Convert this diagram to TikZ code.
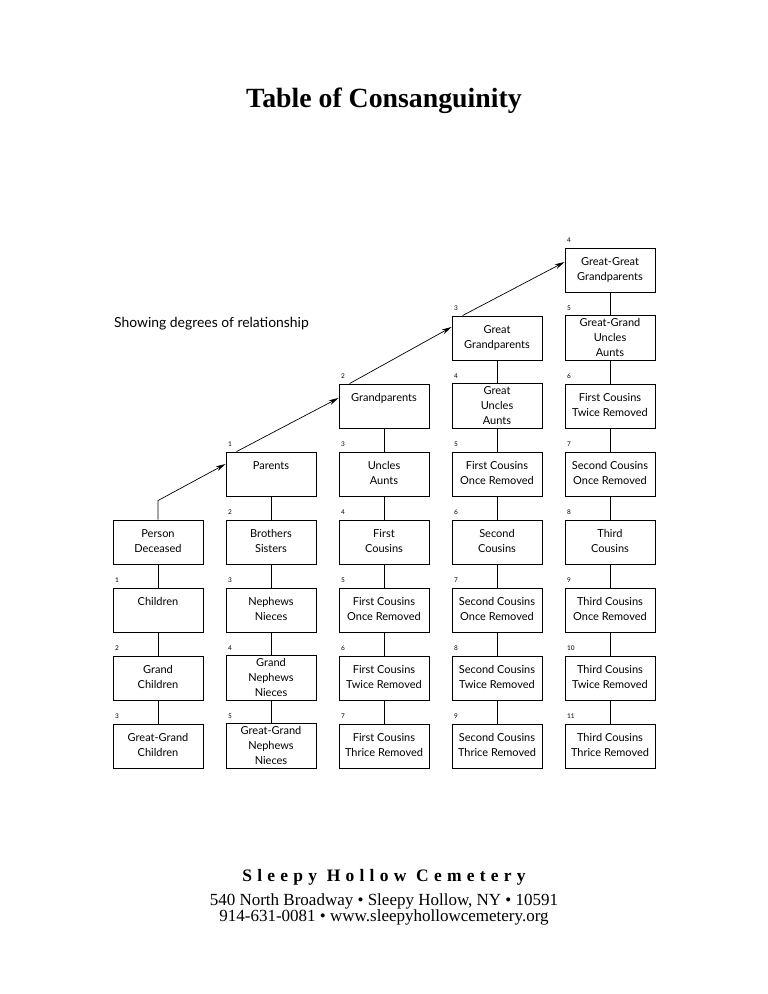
\documentclass[tikz,border=0pt]{standalone}
\usepackage{fontspec}
\setmainfont{Liberation Serif}
\newfontfamily\gs{Lato}
\newfontfamily\spaced[LetterSpace=30]{Liberation Serif}
\usetikzlibrary{arrows.meta}
\begin{document}
\begin{tikzpicture}[x=1pt,y=-1pt,
  bx/.style={draw, line width=0.9pt, minimum width=90pt, minimum height=44pt, inner sep=0pt, align=center, font=\gs\fontsize{11}{15}\selectfont},
  num/.style={anchor=base west, inner sep=0pt, font=\gs\fontsize{6.5}{7}\selectfont},
  ln/.style={line width=0.9pt},
  arr/.style={line width=0.7pt, -{Stealth[length=10pt,width=5pt]}}]
\useasboundingbox (0,0) rectangle (768,994);
% title
\node[anchor=base, inner sep=0pt, font=\bfseries\fontsize{27.8}{32}\selectfont] (title) at (384,107.5) {Table of Consanguinity};
\node[anchor=base west, inner sep=0pt, font=\gs\fontsize{13.9}{16}\selectfont] (sub) at (114,327.5) {Showing degrees of relationship};
% column 0
\node[bx] (pd) at (158,542) {Person\strut\\Deceased\strut};
\node[bx] (ch) at (158,610) {Children\strut\\\strut};
\node[bx] (gch) at (158,678) {Grand\strut\\Children\strut};
\node[bx] (ggch) at (158,746) {Great-Grand\strut\\Children\strut};
\node[num] (n-ch) at (115,582) {1};
\node[num] (n-gch) at (115,650) {2};
\node[num] (n-ggch) at (115,718) {3};
% column 1
\node[bx] (par) at (271,474) {Parents\strut\\\strut};
\node[bx] (bro) at (271,542) {Brothers\strut\\Sisters\strut};
\node[bx] (nep) at (271,610) {Nephews\strut\\Nieces\strut};
\node[bx] (gnep) at (271,678) {Grand\strut\\Nephews\strut\\Nieces\strut};
\node[bx] (ggnep) at (271,746) {Great-Grand\strut\\Nephews\strut\\Nieces\strut};
\node[num] (n-par) at (228,446) {1};
\node[num] (n-bro) at (228,514) {2};
\node[num] (n-nep) at (228,582) {3};
\node[num] (n-gnep) at (228,650) {4};
\node[num] (n-ggnep) at (228,718) {5};
% column 2
\node[bx] (gp) at (384,406) {Grandparents\strut\\\strut};
\node[bx] (unc) at (384,474) {Uncles\strut\\Aunts\strut};
\node[bx] (fc) at (384,542) {First\strut\\Cousins\strut};
\node[bx] (fcor) at (384,610) {First Cousins\strut\\Once Removed\strut};
\node[bx] (fctr) at (384,678) {First Cousins\strut\\Twice Removed\strut};
\node[bx] (fcthr) at (384,746) {First Cousins\strut\\Thrice Removed\strut};
\node[num] (n-gp) at (341,378) {2};
\node[num] (n-unc) at (341,446) {3};
\node[num] (n-fc) at (341,514) {4};
\node[num] (n-fcor) at (341,582) {5};
\node[num] (n-fctr) at (341,650) {6};
\node[num] (n-fcthr) at (341,718) {7};
% column 3
\node[bx] (ggp) at (497,338) {Great\strut\\Grandparents\strut};
\node[bx] (gunc) at (497,406) {Great\strut\\Uncles\strut\\Aunts\strut};
\node[bx] (fcor3) at (497,474) {First Cousins\strut\\Once Removed\strut};
\node[bx] (sc) at (497,542) {Second\strut\\Cousins\strut};
\node[bx] (scor) at (497,610) {Second Cousins\strut\\Once Removed\strut};
\node[bx] (sctr) at (497,678) {Second Cousins\strut\\Twice Removed\strut};
\node[bx] (scthr) at (497,746) {Second Cousins\strut\\Thrice Removed\strut};
\node[num] (n-ggp) at (454,310) {3};
\node[num] (n-gunc) at (454,378) {4};
\node[num] (n-fcor3) at (454,446) {5};
\node[num] (n-sc) at (454,514) {6};
\node[num] (n-scor) at (454,582) {7};
\node[num] (n-sctr) at (454,650) {8};
\node[num] (n-scthr) at (454,718) {9};
% column 4
\node[bx] (gggp) at (610,270) {Great-Great\strut\\Grandparents\strut};
\node[bx] (ggunc) at (610,338) {Great-Grand\strut\\Uncles\strut\\Aunts\strut};
\node[bx] (fctr4) at (610,406) {First Cousins\strut\\Twice Removed\strut};
\node[bx] (scor4) at (610,474) {Second Cousins\strut\\Once Removed\strut};
\node[bx] (tc) at (610,542) {Third\strut\\Cousins\strut};
\node[bx] (tcor) at (610,610) {Third Cousins\strut\\Once Removed\strut};
\node[bx] (tctr) at (610,678) {Third Cousins\strut\\Twice Removed\strut};
\node[bx] (tcthr) at (610,746) {Third Cousins\strut\\Thrice Removed\strut};
\node[num] (n-gggp) at (567,242) {4};
\node[num] (n-ggunc) at (567,310) {5};
\node[num] (n-fctr4) at (567,378) {6};
\node[num] (n-scor4) at (567,446) {7};
\node[num] (n-tc) at (567,514) {8};
\node[num] (n-tcor) at (567,582) {9};
\node[num] (n-tctr) at (567,650) {10};
\node[num] (n-tcthr) at (567,718) {11};
% vertical connectors
\draw[ln] (pd.south) -- (ch.north);
\draw[ln] (ch.south) -- (gch.north);
\draw[ln] (gch.south) -- (ggch.north);
\draw[ln] (par.south) -- (bro.north);
\draw[ln] (bro.south) -- (nep.north);
\draw[ln] (nep.south) -- (gnep.north);
\draw[ln] (gnep.south) -- (ggnep.north);
\draw[ln] (gp.south) -- (unc.north);
\draw[ln] (unc.south) -- (fc.north);
\draw[ln] (fc.south) -- (fcor.north);
\draw[ln] (fcor.south) -- (fctr.north);
\draw[ln] (fctr.south) -- (fcthr.north);
\draw[ln] (ggp.south) -- (gunc.north);
\draw[ln] (gunc.south) -- (fcor3.north);
\draw[ln] (fcor3.south) -- (sc.north);
\draw[ln] (sc.south) -- (scor.north);
\draw[ln] (scor.south) -- (sctr.north);
\draw[ln] (sctr.south) -- (scthr.north);
\draw[ln] (gggp.south) -- (ggunc.north);
\draw[ln] (ggunc.south) -- (fctr4.north);
\draw[ln] (fctr4.south) -- (scor4.north);
\draw[ln] (scor4.south) -- (tc.north);
\draw[ln] (tc.south) -- (tcor.north);
\draw[ln] (tcor.south) -- (tctr.north);
\draw[ln] (tctr.south) -- (tcthr.north);
% ascending arrows
\draw[arr] (pd.north) -- ++(0,-19) -- ([yshift=10pt]par.west);
\draw[arr] ([xshift=11pt]par.north west) -- ([yshift=8pt]gp.west);
\draw[arr] ([xshift=11pt]gp.north west) -- ([yshift=11pt]ggp.west);
\draw[arr] ([xshift=11pt]ggp.north west) -- ([yshift=8pt]gggp.west);
% footer
\node[anchor=base, inner sep=0pt, font=\spaced\bfseries\fontsize{17.5}{20}\selectfont] (cem) at (384,881.5) {Sleepy Hollow Cemetery};
\node[anchor=base, inner sep=0pt, font=\fontsize{17}{19}\selectfont] (addr) at (384,905) {540 North Broadway • Sleepy Hollow, NY • 10591};
\node[anchor=base, inner sep=0pt, font=\fontsize{17}{19}\selectfont] (web) at (384,921.5) {914-631-0081 • www.sleepyhollowcemetery.org};
\end{tikzpicture}
\end{document}
